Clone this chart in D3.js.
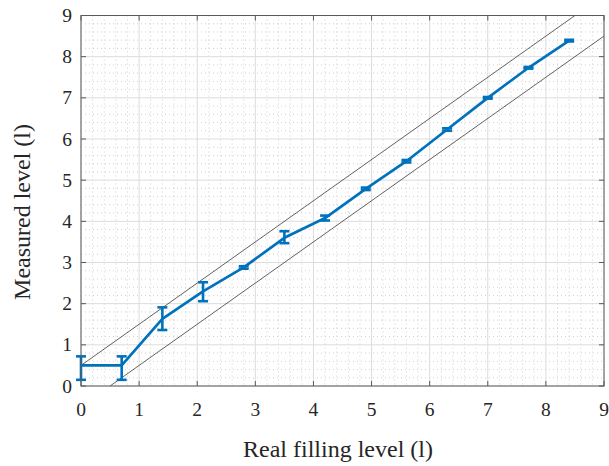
<!DOCTYPE html>
<html>
<head>
<meta charset="utf-8">
<script src="https://cdn.jsdelivr.net/npm/d3@7"></script>
<style>
  html, body { margin: 0; padding: 0; background: #fff; }
  svg { display: block; }
  text { font-family: "Liberation Serif", "Times New Roman", serif; }
</style>
</head>
<body>
<svg id="chart" width="609" height="466"></svg>
<script>
// Real filling level (l) at each measurement step
const realLevel = [0, 0.7, 1.4, 2.1, 2.8, 3.5, 4.2, 4.9, 5.6, 6.3, 7.0, 7.7, 8.4];
// Mean measured level (l)
const measuredLevel = [0.5, 0.5, 1.63, 2.3, 2.88, 3.6, 4.08, 4.79, 5.46, 6.23, 7.0, 7.73, 8.39];
// Lower / upper end of the error bars (l)
const measuredLow  = [0.15, 0.15, 1.36, 2.06, 2.85, 3.47, 4.02, 4.76, 5.43, 6.20, 6.98, 7.71, 8.37];
const measuredHigh = [0.72, 0.72, 1.91, 2.52, 2.91, 3.76, 4.14, 4.82, 5.49, 6.26, 7.02, 7.75, 8.41];
// Tolerance band: measured = real ± bandOffset
const bandOffset = 0.5;
// Axis ticks
const xTicks = [0, 1, 2, 3, 4, 5, 6, 7, 8, 9];
const yTicks = [0, 1, 2, 3, 4, 5, 6, 7, 8, 9];
const minorStep = 0.2;
const axisMax = 9;

const serif = "'Liberation Serif', 'Times New Roman', serif";
const svg = d3.select("#chart");
const plotLeft = 81, plotRight = 604, plotTop = 15.5, plotBottom = 386;

const x = d3.scaleLinear().domain([0, axisMax]).range([plotLeft, plotRight]);
const y = d3.scaleLinear().domain([0, axisMax]).range([plotBottom, plotTop]);

svg.append("defs").append("clipPath").attr("id", "plotClip")
  .append("rect").attr("x", plotLeft).attr("y", plotTop)
  .attr("width", plotRight - plotLeft).attr("height", plotBottom - plotTop);

// Minor grid (dotted)
const minorVals = d3.range(0, axisMax + 1e-9, minorStep)
  .filter(v => Math.abs(v - Math.round(v)) > 1e-6);
const grid = svg.append("g");
grid.selectAll("line.mx").data(minorVals).join("line")
  .attr("x1", d => x(d)).attr("x2", d => x(d))
  .attr("y1", plotTop).attr("y2", plotBottom)
  .attr("stroke", "#c4c4c4").attr("stroke-width", 0.8)
  .attr("stroke-dasharray", "1,3");
grid.selectAll("line.my").data(minorVals).join("line")
  .attr("y1", d => y(d)).attr("y2", d => y(d))
  .attr("x1", plotLeft).attr("x2", plotRight)
  .attr("stroke", "#c4c4c4").attr("stroke-width", 0.8)
  .attr("stroke-dasharray", "1,3");

// Major grid
grid.selectAll("line.gx").data(xTicks).join("line")
  .attr("x1", d => x(d)).attr("x2", d => x(d))
  .attr("y1", plotTop).attr("y2", plotBottom)
  .attr("stroke", "#dcdcdc").attr("stroke-width", 1);
grid.selectAll("line.gy").data(yTicks).join("line")
  .attr("y1", d => y(d)).attr("y2", d => y(d))
  .attr("x1", plotLeft).attr("x2", plotRight)
  .attr("stroke", "#dcdcdc").attr("stroke-width", 1);

// Tolerance band lines
const band = svg.append("g").attr("clip-path", "url(#plotClip)");
[bandOffset, -bandOffset].forEach(off => {
  band.append("line")
    .attr("x1", x(Math.max(0, -off))).attr("y1", y(Math.max(0, off)))
    .attr("x2", x(Math.min(axisMax, axisMax - off))).attr("y2", y(Math.min(axisMax, axisMax + off)))
    .attr("stroke", "#3a3a3a").attr("stroke-width", 0.8);
});

// Data line with error bars
const blue = "#0072BD";
const pts = realLevel.map((r, i) => ({ r, m: measuredLevel[i], lo: measuredLow[i], hi: measuredHigh[i] }));
const dataG = svg.append("g");
dataG.append("path").datum(pts)
  .attr("d", d3.line().x(d => x(d.r)).y(d => y(d.m)))
  .attr("fill", "none").attr("stroke", blue).attr("stroke-width", 2.7)
  .attr("stroke-linejoin", "round");
const capHalf = 5;
const eb = dataG.selectAll("g.eb").data(pts).join("g")
  .attr("stroke", blue).attr("stroke-width", 2.6);
eb.append("line").attr("x1", d => x(d.r)).attr("x2", d => x(d.r))
  .attr("y1", d => y(d.lo)).attr("y2", d => y(d.hi));
eb.append("line").attr("x1", d => x(d.r) - capHalf).attr("x2", d => x(d.r) + capHalf)
  .attr("y1", d => y(d.lo)).attr("y2", d => y(d.lo));
eb.append("line").attr("x1", d => x(d.r) - capHalf).attr("x2", d => x(d.r) + capHalf)
  .attr("y1", d => y(d.hi)).attr("y2", d => y(d.hi));

// Axes box with inward ticks on all sides
const axisColor = "#5a5a5a";
const tickLen = 5;
const ax = svg.append("g").attr("stroke", axisColor).attr("stroke-width", 1);
ax.append("rect").attr("x", plotLeft).attr("y", plotTop)
  .attr("width", plotRight - plotLeft).attr("height", plotBottom - plotTop).attr("fill", "none");
ax.selectAll("line.tb").data(xTicks).join("line")
  .attr("x1", d => x(d)).attr("x2", d => x(d)).attr("y1", plotBottom).attr("y2", plotBottom - tickLen);
ax.selectAll("line.tt").data(xTicks).join("line")
  .attr("x1", d => x(d)).attr("x2", d => x(d)).attr("y1", plotTop).attr("y2", plotTop + tickLen);
ax.selectAll("line.tl").data(yTicks).join("line")
  .attr("y1", d => y(d)).attr("y2", d => y(d)).attr("x1", plotLeft).attr("x2", plotLeft + tickLen);
ax.selectAll("line.tr").data(yTicks).join("line")
  .attr("y1", d => y(d)).attr("y2", d => y(d)).attr("x1", plotRight).attr("x2", plotRight - tickLen);

// Tick labels
const textColor = "#262626";
svg.append("g").selectAll("text").data(xTicks).join("text")
  .attr("x", d => x(d)).attr("y", 415.5)
  .attr("text-anchor", "middle").attr("font-family", serif).attr("font-size", 19.5)
  .attr("fill", textColor)
  .text(d => d);
svg.append("g").selectAll("text").data(yTicks).join("text")
  .attr("x", 72).attr("y", d => y(d) + 6.5)
  .attr("text-anchor", "end").attr("font-family", serif).attr("font-size", 19.5)
  .attr("fill", textColor)
  .text(d => d);

// Axis titles
svg.append("text").attr("x", 338).attr("y", 457)
  .attr("text-anchor", "middle").attr("font-family", serif).attr("font-size", 24)
  .attr("fill", textColor)
  .text("Real filling level (l)");
svg.append("text").attr("transform", "translate(30,212) rotate(-90)")
  .attr("text-anchor", "middle").attr("font-family", serif).attr("font-size", 24)
  .attr("fill", textColor)
  .text("Measured level (l)");
</script>
</body>
</html>
